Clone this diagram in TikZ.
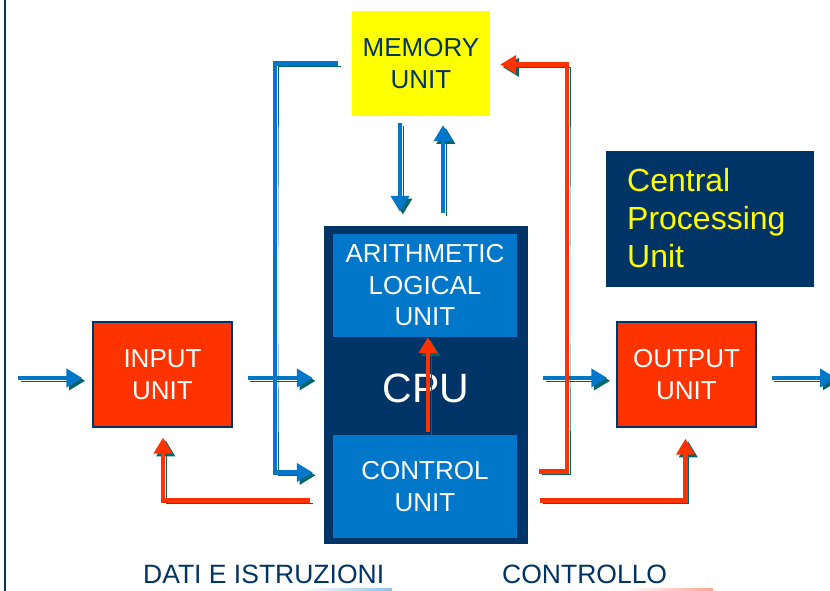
\documentclass[tikz,border=0pt]{standalone}
\usepackage{fontspec}
\setmainfont{Liberation Sans}
\usetikzlibrary{arrows.meta,calc}
\definecolor{navy}{HTML}{003366}
\definecolor{midblue}{HTML}{0077C8}
\definecolor{redor}{HTML}{FF3300}
\definecolor{shadowc}{HTML}{006666}
\definecolor{yel}{HTML}{FFFF00}

\begin{document}
\begin{tikzpicture}[x=1pt,y=-1pt,
  flow/.style={line width=4.8pt, line join=miter,
    -{Triangle[length=16pt,width=18pt]},
    preaction={draw=shadowc, transform canvas={shift={(2.8pt,-2.8pt)}}}},
  dflow/.style={flow, draw=midblue},
  cflow/.style={flow, draw=redor},
  lbl/.style={font=\fontsize{26}{32}\selectfont, align=center, inner sep=0pt},
  iounit/.style={lbl, minimum width=139pt, minimum height=105pt,
    fill=redor, draw=navy, line width=1.3pt, text=white},
  inner/.style={lbl, minimum width=184pt, minimum height=103pt,
    fill=midblue, text=white, font=\fontsize{26}{31.5}\selectfont},
  legend/.style={font=\fontsize{26.5}{32}\selectfont, text=navy, inner sep=0pt}
]
\useasboundingbox (0,0) rectangle (830,591);
\fill[white] (0,0) rectangle (830,591);

% frame line on the left
\draw[navy, line width=2pt] (5,0) -- (5,591);

% blocks
\node[lbl, minimum width=138pt, minimum height=105pt, fill=yel, text=navy]
  (mem) at (421,63.5) {MEMORY\\UNIT};
\node[iounit] (inp) at (162.5,374.5) {INPUT\\UNIT};
\node[iounit] (outp) at (686.5,374.5) {OUTPUT\\UNIT};
\node[minimum width=204pt, minimum height=318pt, fill=navy, inner sep=0pt]
  (cpu) at (426,385) {};
\node[inner] (alu) at (425,285.5) {ARITHMETIC\\LOGICAL\\UNIT};
\node[inner] (cu) at (425,486.5) {CONTROL\\UNIT};
\node[font=\fontsize{41}{48}\selectfont, text=white, inner sep=0pt]
  (cputxt) at (426,388) {CPU};
\node[minimum width=208pt, minimum height=136pt, fill=navy, inner sep=0pt]
  (cpuleg) at (710,219) {};
\node[font=\fontsize{32}{38}\selectfont, text=yel, align=left, inner sep=0pt,
  anchor=west] (cpulegtxt) at (627,218.5) {Central\\Processing\\Unit};

% buses
\coordinate (inl) at (18,378);
\coordinate (outr) at (836,378);
\coordinate (lbus) at (275,300);
\coordinate (rbus) at (567,300);

% data and instructions
\draw[dflow] (inl) -- ($(inp.west |- inl)+(-10,0)$);
\draw[dflow] ($(inp.east |- inl)+(15,0)$) -- ($(cpu.west |- inl)+(-11,0)$);
\draw[dflow] ($(mem.west)+(-14,0)$) -| (lbus) |- ($(cu.west)+(-20,-14)$);
\draw[dflow] ($(mem.south)+(-21,7)$) -- ($(mem.south |- cpu.north)+(-21,-14)$);
\draw[dflow] ($(mem.south |- cpu.north)+(22,-13)$) -- ($(mem.south)+(22,9)$);
\draw[dflow] ($(cpu.east |- inl)+(15,0)$) -- ($(outp.west |- inl)+(-9,0)$);
\draw[dflow] ($(outp.east |- inl)+(15,0)$) -- (outr);

% control signals
\draw[cflow] ($(cu.east)+(22,-15)$) -| (rbus) |- ($(mem.east)+(10,1)$);
\draw[cflow] ($(cu.east)+(23,14)$) -| ($(outp.south)+(-1,11)$);
\draw[cflow] ($(cu.west)+(-23,14)$) -| ($(inp.south)+(0.5,10)$);
\draw[cflow] ($(cu.north)+(3,-3)$) -- ($(alu.south)+(3,0)$);

% legend
\node[legend, anchor=base west] (ldata) at (143,583) {DATI E ISTRUZIONI};
\node[legend, anchor=base west] (lctrl) at (502,583) {CONTROLLO};
\shade[left color=white, right color=midblue!45] (300,588.5) rectangle (392,591);
\shade[left color=white, right color=redor!45] (625,588.5) rectangle (713,591);
\end{tikzpicture}
\end{document}
